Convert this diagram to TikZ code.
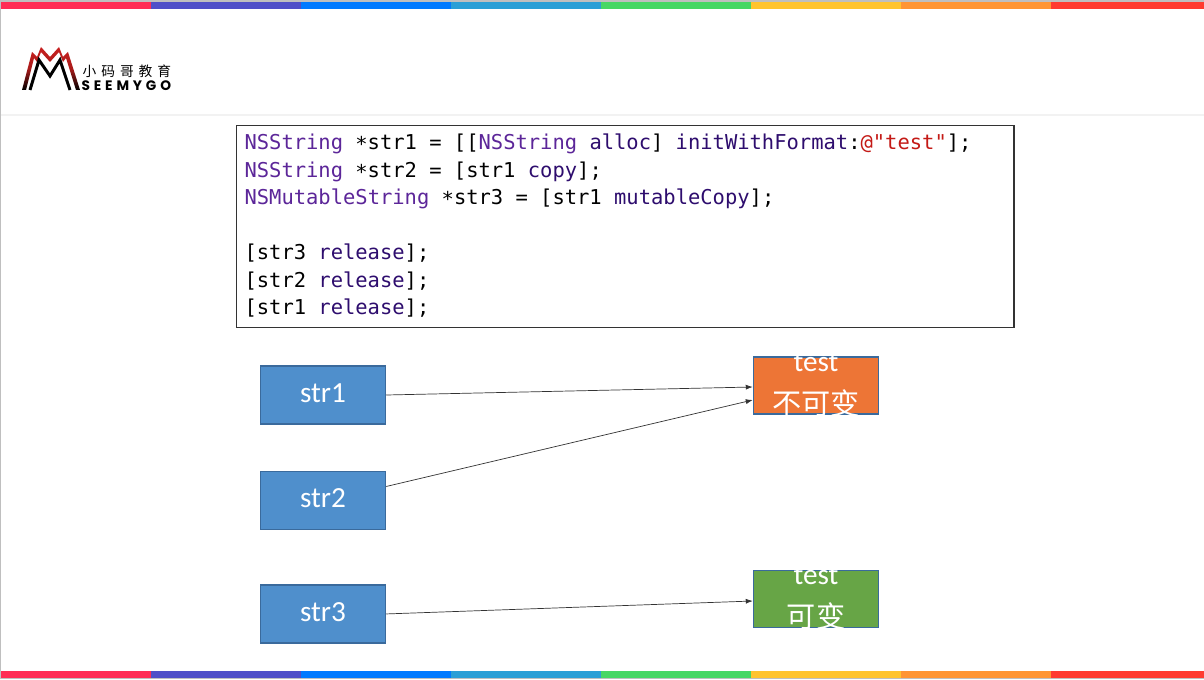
\documentclass[tikz,border=0pt]{standalone}
\usepackage{fontspec}
\setmainfont{Carlito}
\setmonofont{DejaVu Sans Mono}
\newfontfamily\cjk{Noto Sans CJK SC}
\newfontfamily\logocjk[LetterSpace=36]{Noto Sans CJK SC}
\newfontfamily\logolatin[LetterSpace=28]{Poppins}
\usepackage{tikz}
\usetikzlibrary{arrows.meta,positioning,calc}

\definecolor{barA}{HTML}{FF2D55}
\definecolor{barB}{HTML}{4F4FC8}
\definecolor{barC}{HTML}{007AFF}
\definecolor{barD}{HTML}{2A9FD6}
\definecolor{barE}{HTML}{46D764}
\definecolor{barF}{HTML}{FFC42E}
\definecolor{barG}{HTML}{FF9533}
\definecolor{barH}{HTML}{FF3B30}
\definecolor{logored}{HTML}{C8201F}
\definecolor{ptrblue}{HTML}{4F8FCC}
\definecolor{ptredge}{HTML}{3A6A9C}
\definecolor{valorange}{HTML}{ED7536}
\definecolor{valgreen}{HTML}{67A546}
\definecolor{clscolor}{HTML}{5C2699}
\definecolor{msgcolor}{HTML}{2E0D6E}
\definecolor{strcolor}{HTML}{C41A16}

\newcommand{\cls}[1]{\textcolor{clscolor}{#1}}
\newcommand{\msg}[1]{\textcolor{msgcolor}{#1}}
\newcommand{\lit}[1]{\textcolor{strcolor}{#1}}
\newcommand{\ptr}{\raisebox{-0.5pt}{*}}

\tikzset{
  ptrbox/.style={draw=ptredge,fill=ptrblue,minimum width=12.5mm,minimum height=5.8mm,inner sep=0pt,text=white,text depth=0.4mm,font=\fontsize{8.3}{10}\selectfont},
  valbox/.style={draw=ptredge,minimum width=12.5mm,minimum height=5.7mm,inner sep=0pt},
  valtext/.style={text=white,align=center,inner sep=0pt,font=\fontsize{8.3}{12.3}\selectfont},
  link/.style={-{Latex[length=0.7mm,width=0.5mm]},line width=0.2pt,black!80},
}

\begin{document}
\begin{tikzpicture}[x=0.01cm,y=-0.01cm,node distance=4.6mm]
\useasboundingbox (0,0) rectangle (1204,679);
\fill[white] (0,0) rectangle (1204,679);
\fill[black!25] (0,0) rectangle (1204,2);
\fill[black!25] (0,0) rectangle (1,679);
\fill[black!25] (0,677) rectangle (1204,679);
\draw[black!5,line width=0.4pt] (1,115) -- (1204,115);

% rainbow bars
\foreach \col [count=\i from 0] in {barA,barB,barC,barD,barE,barF,barG,barH} {
  \fill[\col] ({1+150*\i},2) rectangle ({\i<7 ? 1+150*(\i+1) : 1204},9);
  \fill[\col] ({1+150*\i},671) rectangle ({\i<7 ? 1+150*(\i+1) : 1204},678);
}

% logo
\shade[top color=logored,bottom color=black,middle color=logored!85!black]
  (22,90) -- (32,52) -- (37,57) -- (41,47) -- (50,57) -- (59,47) -- (63,57) -- (68,52) -- (80,90)
  -- (76,90) -- (66,58) -- (63,62) -- (59,52) -- (50,62) -- (41,52) -- (37,62) -- (34,58) -- (26,90) -- cycle;
\draw[black,line width=0.85pt] (30,90) -- (39,60) -- (50,76) -- (60,60) -- (70,90);
\node[anchor=west,inner sep=0pt,font=\logocjk\fontsize{3.9}{4}\selectfont] (logocn) at (82,71) {小码哥教育};
\node[anchor=west,inner sep=0pt,font=\logolatin\bfseries\fontsize{3.9}{4}\selectfont] (logoen) at (81,86) {SEEMYGO};

% code
\node[draw=black!80,line width=0.3pt,anchor=north west,minimum width=7.77cm,minimum height=2.02cm,text width=7.61cm,inner sep=0pt,align=left,font=\ttfamily\fontsize{5.82}{7.82}\selectfont] (code) at (236,125) {%
\spaceskip=3.5pt\relax
\cls{NSString} \ptr str1 = [[\cls{NSString} \msg{alloc}] \msg{initWithFormat}:\lit{@"test"}];\\
\cls{NSString} \ptr str2 = [str1 \msg{copy}];\\
\cls{NSMutableString} \ptr str3 = [str1 \msg{mutableCopy}];\\
\mbox{}\\
{[}str3 \msg{release}];\\
{[}str2 \msg{release}];\\
{[}str1 \msg{release}];\rule[-0.04cm]{0pt}{0pt}};

\node[ptrbox] (str1) at (323,395) {str1};
\node[ptrbox,below=of str1] (str2) {str2};
\node[ptrbox,below=5.4mm of str2] (str3) {str3};

\node[valbox,fill=valorange] (immut) at (816,385.5) {};
\node[valbox,fill=valgreen] (mut) at (816,599) {};
\node[valtext,yshift=3mm] (immuttext) at (immut.south) {test\\{\cjk 不可变}};
\node[valtext,yshift=3mm] (muttext) at (mut.south) {test\\{\cjk 可变}};

\draw[link] (str1.east) -- ($(immut.west)+(0,1.5)$);
\draw[link] ($(str2.east)+(0,-14)$) -- ($(immut.west)+(0,14.5)$);
\draw[link] (str3.east) -- ($(mut.west)+(0,2)$);
\end{tikzpicture}
\end{document}
